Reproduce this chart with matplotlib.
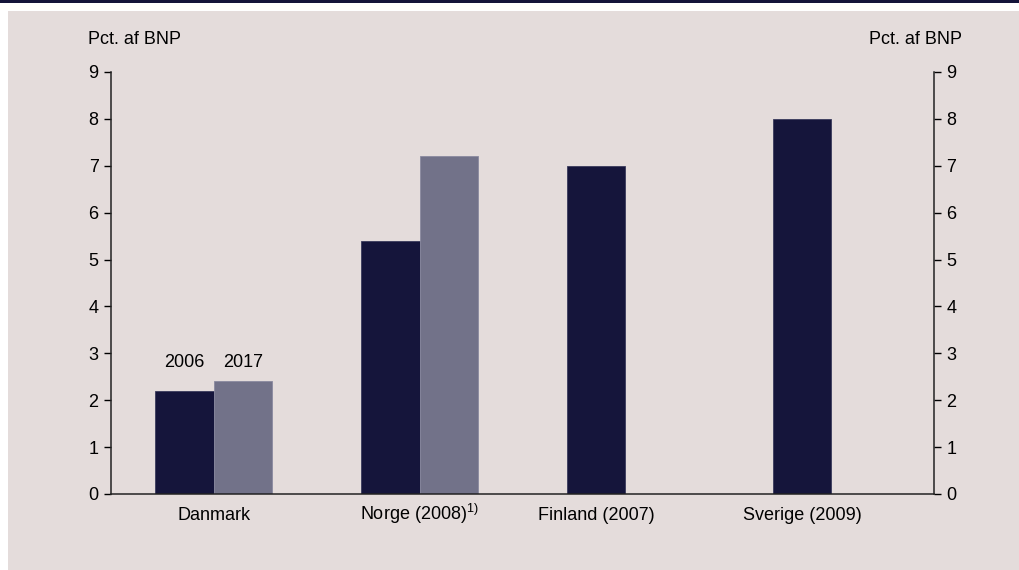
import matplotlib
matplotlib.use("Agg")
import matplotlib.pyplot as plt
from matplotlib.patches import Rectangle
import numpy as np

plt.rcParams['font.family'] = ['Liberation Sans', 'DejaVu Sans']
plt.rcParams['mathtext.fontset'] = 'custom'
plt.rcParams['mathtext.rm'] = 'Liberation Sans'
plt.rcParams['mathtext.it'] = 'Liberation Sans'
plt.rcParams['mathtext.default'] = 'rm'

categories = ["Danmark", "Norge (2008)$^{1)}$", "Finland (2007)", "Sverige (2009)"]
series_names = ["2006", "2017"]
first_values = [2.2, 5.4, 7.0, 8.0]
second_values = [2.4, 7.2, None, None]
y_ticks = [0, 1, 2, 3, 4, 5, 6, 7, 8, 9]
unit_label = "Pct. af BNP"

dark = "#15153B"
light = "#727289"
bg = "#E4DCDB"
fs = 13

W, H = 1019, 570
fig = plt.figure(figsize=(W / 100, H / 100), dpi=100)
fig.patch.set_facecolor("white")
# top rule and panel background
fig.add_artist(Rectangle((0, 1 - 3 / H), 1, 3 / H, transform=fig.transFigure,
                         facecolor="#14143A", edgecolor="none", zorder=0))
fig.add_artist(Rectangle((8 / W, 0), 1 - 8 / W, 1 - 11 / H, transform=fig.transFigure,
                         facecolor=bg, edgecolor="none", zorder=0))

left, right = 111 / W, 934 / W
bottom, top = 1 - 494 / H, 1 - 72 / H
ax = fig.add_axes([left, bottom, right - left, top - bottom])
ax.set_facecolor("none")

x = np.arange(len(categories))
bw = 0.284
ax.bar(x - bw / 2, first_values, width=bw, color=dark, edgecolor="#3a3a5c",
       linewidth=0.6, zorder=2)
sx = [xi + bw / 2 for xi, v in zip(x, second_values) if v is not None]
sv = [v for v in second_values if v is not None]
ax.bar(sx, sv, width=bw, color=light, edgecolor="#8a8aa0", linewidth=0.6, zorder=2)

ax.set_xlim(-0.5, len(categories) - 0.5)
ax.set_ylim(0, 9)
ax.set_yticks(y_ticks)
ax.tick_params(axis="y", direction="out", length=5, width=1, labelsize=fs,
               left=True, right=True, labelleft=True, labelright=True, pad=4)

# label positions: group centre for paired bars, bar centre for single bars
label_pos = [xi if v is not None else xi - bw / 2 for xi, v in zip(x, second_values)]
ax.set_xticks(label_pos)
ax.set_xticklabels(categories)
ax.tick_params(axis="x", length=0, labelsize=fs, pad=19)
for lbl in ax.get_xticklabels():
    lbl.set_verticalalignment("baseline")

for s in ["top"]:
    ax.spines[s].set_visible(False)
for s in ["left", "right", "bottom"]:
    ax.spines[s].set_linewidth(1.1)
    ax.spines[s].set_color("#222222")

# series year labels above the Danmark bars
ax.text(x[0] - bw / 2, 2.62, series_names[0], ha="center", va="bottom", fontsize=fs)
ax.text(x[0] + bw / 2, 2.62, series_names[1], ha="center", va="bottom", fontsize=fs)

fig.text(88 / W, 1 - 40 / H, unit_label, ha="left", va="center", fontsize=fs)
fig.text(962 / W, 1 - 40 / H, unit_label, ha="right", va="center", fontsize=fs)

fig.savefig("out.png", dpi=100, facecolor=fig.get_facecolor())
